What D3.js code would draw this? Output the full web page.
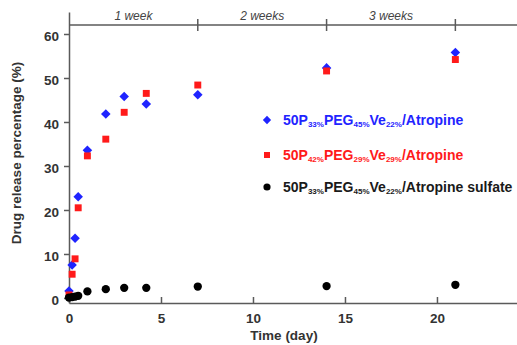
<!DOCTYPE html>
<html>
<head>
<meta charset="utf-8">
<script src="https://cdn.jsdelivr.net/npm/d3@7"></script>
<style>
  body { margin: 0; background: #fff; }
  svg { display: block; font-family: "Liberation Sans", Arial, sans-serif; }
</style>
</head>
<body>
<svg id="chart" width="517" height="345"></svg>
<script>
// time points (day)
const daysBlue = [0, 0.17, 0.33, 0.5, 1, 2, 3, 4.2, 7, 14, 21];
const valuesBlue = [1.6, 7.5, 13.6, 23.0, 33.6, 41.8, 45.8, 44.1, 46.2, 52.3, 55.8];

const daysRed = [0, 0.17, 0.33, 0.5, 1, 2, 3, 4.2, 7, 14, 21];
const valuesRed = [0.7, 5.4, 8.9, 20.5, 32.3, 36.1, 42.2, 46.5, 48.4, 51.6, 54.2];

const daysBlack = [0, 0.17, 0.33, 0.5, 1, 2, 3, 4.2, 7, 14, 21];
const valuesBlack = [0.1, 0.2, 0.3, 0.5, 1.5, 2.0, 2.3, 2.3, 2.6, 2.7, 3.0];

const yTicks = [0, 10, 20, 30, 40, 50, 60];
const xTicks = [0, 5, 10, 15, 20];
const weekTicks = [7, 14, 21];
const weekLabels = [
  { label: '1 week', from: 0, to: 7 },
  { label: '2 weeks', from: 7, to: 14 },
  { label: '3 weeks', from: 14, to: 21 }
];

// legend text pieces: [text, isSubscript]
const legendItems = [
  [['50P', 0], ['33%', 1], ['PEG', 0], ['45%', 1], ['Ve', 0], ['22%', 1], ['/Atropine', 0]],
  [['50P', 0], ['42%', 1], ['PEG', 0], ['29%', 1], ['Ve', 0], ['29%', 1], ['/Atropine', 0]],
  [['50P', 0], ['33%', 1], ['PEG', 0], ['45%', 1], ['Ve', 0], ['22%', 1], ['/Atropine sulfate', 0]]
];

const series = [
  { days: daysBlue, values: valuesBlue, color: '#1f24ff', symbol: d3.symbolDiamond2, size: 58 },
  { days: daysRed, values: valuesRed, color: '#ff1a1a', symbol: d3.symbolSquare, size: 48 },
  { days: daysBlack, values: valuesBlack, color: '#000000', symbol: d3.symbolCircle, size: 54 }
];

const axisColor = '#5a5a5a';
const labelColor = '#333';

const svg = d3.select('#chart');

const x = d3.scaleLinear().domain([0, 24.35]).range([69, 517]);
const y = d3.scaleLinear().domain([-1.14, 65]).range([303, 12]);

function styleAxis(g, dy) {
  g.select('.domain').attr('stroke', axisColor).attr('stroke-width', 1.5);
  g.selectAll('.tick line').attr('stroke', axisColor).attr('stroke-width', 1.5);
  g.selectAll('.tick text')
    .attr('fill', labelColor)
    .attr('dy', dy)
    .style('font-size', '13.5px')
    .style('font-weight', 'bold');
}

// y axis
svg.append('g')
  .attr('transform', `translate(${x(0)},0)`)
  .call(d3.axisLeft(y).tickValues(yTicks).tickSize(5).tickPadding(5).tickSizeOuter(0))
  .call(styleAxis, '0.5em');

// x axis, ticks pointing inward
svg.append('g')
  .attr('transform', `translate(0,${y.range()[0]})`)
  .call(d3.axisBottom(x).tickValues(xTicks).tickSize(-6).tickPadding(8).tickSizeOuter(0))
  .call(styleAxis, '0.9em');

// top axis with week markers
const topY = 25;
svg.append('line')
  .attr('x1', x(0)).attr('x2', x.range()[1])
  .attr('y1', topY).attr('y2', topY)
  .attr('stroke', axisColor).attr('stroke-width', 1.5);

svg.selectAll('.week-tick')
  .data(weekTicks)
  .join('line')
  .attr('class', 'week-tick')
  .attr('x1', (d) => x(d)).attr('x2', (d) => x(d))
  .attr('y1', topY - 6).attr('y2', topY + 6)
  .attr('stroke', axisColor).attr('stroke-width', 1.5);

svg.selectAll('.week-label')
  .data(weekLabels)
  .join('text')
  .attr('class', 'week-label')
  .attr('x', (d) => x((d.from + d.to) / 2))
  .attr('y', topY - 5)
  .attr('text-anchor', 'middle')
  .attr('fill', '#444')
  .style('font-size', '12px')
  .style('font-style', 'italic')
  .text((d) => d.label);

// markers
series.forEach((s) => {
  const points = s.days.map((day, i) => ({ day, value: s.values[i] }));
  svg.append('g')
    .selectAll('path')
    .data(points)
    .join('path')
    .attr('transform', (d) => `translate(${x(d.day)},${y(d.value)})`)
    .attr('d', d3.symbol().type(s.symbol).size(s.size))
    .attr('fill', s.color);
});

// axis titles
svg.append('text')
  .attr('transform', 'translate(21,153) rotate(-90)')
  .attr('text-anchor', 'middle')
  .attr('fill', labelColor)
  .style('font-size', '13.5px')
  .style('font-weight', 'bold')
  .text('Drug release percentage (%)');

svg.append('text')
  .attr('x', 284)
  .attr('y', 340)
  .attr('text-anchor', 'middle')
  .attr('fill', labelColor)
  .style('font-size', '13.5px')
  .style('font-weight', 'bold')
  .text('Time (day)');

// legend
const legendY = [120, 155, 187];
legendItems.forEach((parts, i) => {
  const s = series[i];
  const row = svg.append('g').attr('transform', `translate(267,${legendY[i]})`);
  row.append('path')
    .attr('d', d3.symbol().type(s.symbol).size(s.size * 0.75))
    .attr('fill', s.color);
  const text = row.append('text')
    .attr('x', 16)
    .attr('y', 5)
    .attr('fill', s.color === '#000000' ? '#1a1a1a' : s.color)
    .style('font-size', '14px')
    .style('font-weight', 'bold');
  parts.forEach(([str, sub], j) => {
    const prevSub = j > 0 && parts[j - 1][1];
    text.append('tspan')
      .style('font-size', sub ? '8px' : '14px')
      .attr('dy', sub ? 1.5 : (prevSub ? -1.5 : 0))
      .text(str);
  });
});
</script>
</body>
</html>
